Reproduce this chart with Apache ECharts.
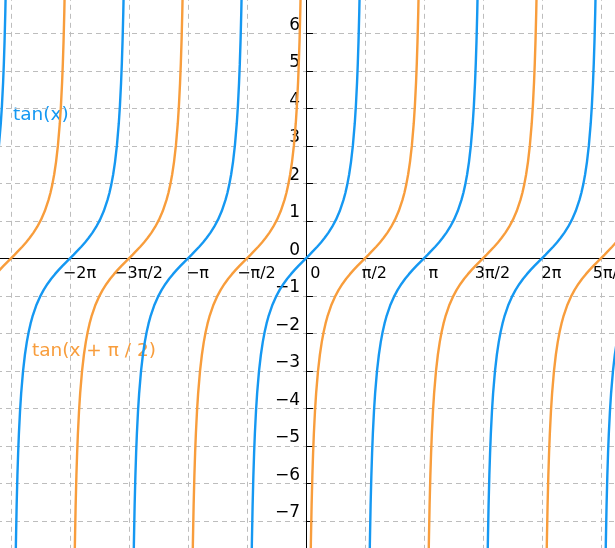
<!DOCTYPE html>
<html>
<head>
<meta charset="utf-8">
<script src="https://cdn.jsdelivr.net/npm/echarts@6/dist/echarts.min.js"></script>
<style>
  html, body { margin: 0; padding: 0; background: #fff; }
  #chart { width: 615px; height: 548px; }
</style>
</head>
<body>
<div id="chart"></div>
<script>
// one branch of the curve, offset from its centre (radians) and its height
var branchDx = [-1.5, -1.47, -1.44, -1.42, -1.4, -1.38, -1.36, -1.33, -1.3, -1.25, -1.2, -1.15, -1.1, -1.05, -1,
    -0.9, -0.8, -0.7, -0.6, -0.5, -0.4, -0.3, -0.2, -0.1, 0, 0.1, 0.2, 0.3, 0.4, 0.5, 0.6, 0.7, 0.8, 0.9,
    1, 1.05, 1.1, 1.15, 1.2, 1.25, 1.3, 1.33, 1.36, 1.38, 1.4, 1.42, 1.44, 1.47, 1.5];
var branchY = [-14.101, -9.887, -7.602, -6.581, -5.798, -5.177, -4.673, -4.072, -3.602, -3.010, -2.572, -2.235, -1.965, -1.743, -1.557,
    -1.260, -1.030, -0.842, -0.684, -0.546, -0.423, -0.309, -0.203, -0.100, 0, 0.100, 0.203, 0.309, 0.423, 0.546, 0.684, 0.842, 1.030, 1.260,
    1.557, 1.743, 1.965, 2.235, 2.572, 3.010, 3.602, 4.072, 4.673, 5.177, 5.798, 6.581, 7.602, 9.887, 14.101];

// branch centres, in units of pi
var tanCentres = [-3, -2, -1, 0, 1, 2, 3];
var shiftedCentres = [-2.5, -1.5, -0.5, 0.5, 1.5, 2.5];

// x tick labels, from -2pi upwards in steps of pi/2
var xTickLabels = ['−2π', '−3π/2', '−π', '−π/2', '0', 'π/2', 'π', '3π/2', '2π', '5π/2'];
var xTickFirstHalfPi = -4;
var yLabelMin = -7, yLabelMax = 6;

var blue = '#1598f2';
var orange = '#f89d3c';

var chart = echarts.init(document.getElementById('chart'));

function branchSeries(centre, color) {
    var data = [];
    for (var i = 0; i < branchDx.length; i++) {
        data.push([centre * Math.PI + branchDx[i], branchY[i]]);
    }
    return {
        type: 'line',
        data: data,
        showSymbol: false,
        silent: true,
        lineStyle: { color: color, width: 2.4 },
        itemStyle: { color: color }
    };
}

var series = [];
tanCentres.forEach(function (c) { series.push(branchSeries(c, blue)); });
shiftedCentres.forEach(function (c) { series.push(branchSeries(c, orange)); });

// plot area runs past the window so the axes cross at (306, 258)
var gridLeft = -48, gridTop = -4.2, gridW = 707.9, gridH = 562.5;
var xMin = -3 * Math.PI, xMax = 3 * Math.PI, yMin = -8, yMax = 7;
var zeroX = gridLeft + gridW * (0 - xMin) / (xMax - xMin);
var zeroY = gridTop + gridH * (yMax - 0) / (yMax - yMin);

var gridLine = { show: true, lineStyle: { color: '#bdbdbd', width: 1, type: [5, 4] } };

var option = {
    animation: false,
    grid: {
        left: gridLeft,
        top: gridTop,
        width: gridW,
        height: gridH,
        containLabel: false,
        outerBoundsMode: 'none'
    },
    xAxis: {
        type: 'value',
        position: 'bottom',
        min: xMin,
        max: xMax,
        interval: Math.PI / 2,
        offset: zeroY - (gridTop + gridH),
        axisLine: { onZero: false, lineStyle: { color: '#000', width: 1 } },
        axisTick: { show: false },
        splitLine: gridLine,
        axisLabel: {
            margin: 8,
            padding: [0, 0, 0, 19],
            fontSize: 16,
            lineHeight: 16,
            fontFamily: 'DejaVu Sans',
            color: '#000',
            formatter: function (v) {
                var k = Math.round(v / (Math.PI / 2)) - xTickFirstHalfPi;
                return (k >= 0 && k < xTickLabels.length) ? xTickLabels[k] : '';
            }
        }
    },
    yAxis: {
        type: 'value',
        position: 'left',
        min: yMin,
        max: yMax,
        interval: 1,
        offset: gridLeft - zeroX,
        axisLine: { onZero: false, lineStyle: { color: '#000', width: 1 } },
        axisTick: { show: true, inside: true, length: 7, lineStyle: { color: '#000' } },
        splitLine: gridLine,
        axisLabel: {
            margin: 6,
            verticalAlign: 'bottom',
            fontSize: 17,
            lineHeight: 16,
            fontFamily: 'DejaVu Sans',
            color: '#000',
            formatter: function (v) {
                if (v < yLabelMin || v > yLabelMax) return '';
                return String(v).replace('-', '−');
            }
        }
    },
    graphic: [
        {
            type: 'text', x: 13, y: 115, silent: true,
            style: { text: 'tan(x)', fill: blue, font: '18.5px "DejaVu Sans"', verticalAlign: 'middle' }
        },
        {
            type: 'text', x: 32, y: 351, silent: true,
            style: { text: 'tan(x + π / 2)', fill: orange, font: '18.5px "DejaVu Sans"', verticalAlign: 'middle' }
        }
    ],
    series: series
};

chart.setOption(option);
</script>
</body>
</html>
